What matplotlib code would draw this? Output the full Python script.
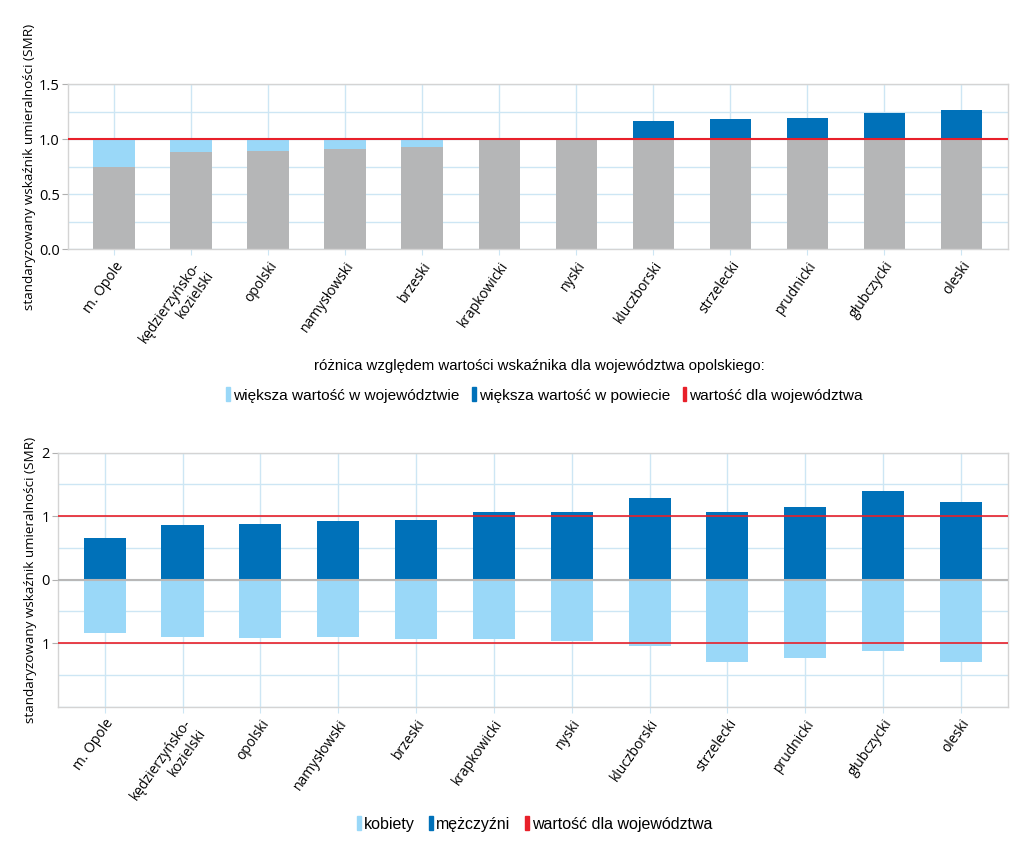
"""Wskaźnik SMR dla powiatów województwa opolskiego — dwa wykresy słupkowe."""
import numpy as np
import matplotlib
matplotlib.use("Agg")
import matplotlib.pyplot as plt  # noqa: E402
from matplotlib.patches import Patch  # noqa: E402

powiaty = ["m. Opole", "kędzierzyńsko-\nkozielski", "opolski", "namysłowski",
           "brzeski", "krapkowicki", "nyski", "kluczborski", "strzelecki",
           "prudnicki", "głubczycki", "oleski"]

# SMR ogółem
smr_ogolem = [0.75, 0.88, 0.89, 0.91, 0.93, 0.99, 0.99, 1.16, 1.18, 1.19, 1.24, 1.26]
# SMR wg płci
smr_mezczyzni = [0.65, 0.86, 0.87, 0.92, 0.94, 1.06, 1.07, 1.28, 1.06, 1.14, 1.39, 1.23]
smr_kobiety = [0.84, 0.91, 0.92, 0.91, 0.93, 0.94, 0.96, 1.05, 1.30, 1.23, 1.12, 1.29]

wojewodztwo = 1.0

SZARY = "#b5b6b7"
JASNY = "#9ad8f8"
CIEMNY = "#0071b9"
CZERWONY = "#e8202a"
SIATKA = "#cde6f4"
RAMKA = "#d4d4d4"
YLABEL = "standaryzowany wskaźnik umieralności (SMR)"
WASKI = ["Liberation Sans", "DejaVu Sans"]

plt.rcParams["font.family"] = ["Open Sans", "DejaVu Sans"]
plt.rcParams["font.size"] = 10

fig = plt.figure(figsize=(10.24, 8.59), dpi=100)
x = np.arange(len(powiaty))
szer = 0.54


def _styl(ax):
    ax.set_xlim(-0.6, 11.6)
    ax.set_xticks(x)
    ax.set_xticklabels(powiaty, rotation=55, ha="right", rotation_mode="anchor",
                       fontsize=10)
    ax.tick_params(axis="x", length=4, color=SIATKA, pad=3)
    ax.tick_params(axis="y", which="major", length=4, color="#b0b0b0", pad=2,
                   labelsize=10.5)
    ax.tick_params(axis="y", which="minor", length=0)
    ax.grid(True, which="both", color=SIATKA, linewidth=1.0)
    ax.set_axisbelow(True)
    for s in ax.spines.values():
        s.set_color(RAMKA)
        s.set_linewidth(1.0)
    ax.set_ylabel(YLABEL, fontsize=9.7)


# --- górny wykres: ogółem ---
ax1 = fig.add_axes([0.0664, 0.7101, 0.9176, 0.1921])
v = np.array(smr_ogolem)
baza = np.minimum(v, wojewodztwo)
ax1.bar(x, baza, width=szer, color=SZARY, zorder=2)
ax1.bar(x, np.maximum(wojewodztwo - v, 0), bottom=v, width=szer, color=JASNY, zorder=2)
ax1.bar(x, np.maximum(v - wojewodztwo, 0), bottom=wojewodztwo, width=szer,
        color=CIEMNY, zorder=2)
ax1.axhline(wojewodztwo, color=CZERWONY, linewidth=1.5, zorder=3)
ax1.set_ylim(0, 1.5)
ax1.set_yticks([0, 0.5, 1.0, 1.5])
ax1.set_yticklabels(["0.0", "0.5", "1.0", "1.5"])
ax1.set_yticks(np.arange(0, 1.51, 0.25), minor=True)
_styl(ax1)
ax1.yaxis.set_label_coords(-0.034, 0.5)

fig.text(0.527, 1 - 366 / 859, "różnica względem wartości wskaźnika dla województwa opolskiego:",
         ha="center", va="center", fontsize=10.85, family=WASKI)
uchwyty1 = [Patch(color=JASNY), Patch(color=CIEMNY), Patch(color=CZERWONY)]
fig.legend(uchwyty1, ["większa wartość w województwie", "większa wartość w powiecie",
                      "wartość dla województwa"],
           loc="center", bbox_to_anchor=(0.532, 1 - 395 / 859), ncol=3, frameon=False,
           handlelength=0.25, handleheight=1.0, handletextpad=0.2, columnspacing=0.8,
           prop={"family": WASKI, "size": 11.1})

# --- dolny wykres: wg płci ---
ax2 = fig.add_axes([0.0566, 0.1773, 0.9274, 0.2957])
ax2.bar(x, smr_mezczyzni, width=szer, color=CIEMNY, zorder=2)
ax2.bar(x, [-k for k in smr_kobiety], width=szer, color=JASNY, zorder=2)
ax2.axhline(0, color="#b8b8b8", linewidth=1.5, zorder=3)
ax2.axhline(wojewodztwo, color=CZERWONY, linewidth=1.2, zorder=3)
ax2.axhline(-wojewodztwo, color=CZERWONY, linewidth=1.2, zorder=3)
ax2.set_ylim(-2, 2)
ax2.set_yticks([-1, 0, 1, 2])
ax2.set_yticklabels(["1", "0", "1", "2"])
ax2.set_yticks(np.arange(-2, 2.01, 0.5), minor=True)
_styl(ax2)
ax2.yaxis.set_label_coords(-0.022, 0.5)

uchwyty2 = [Patch(color=JASNY), Patch(color=CIEMNY), Patch(color=CZERWONY)]
fig.legend(uchwyty2, ["kobiety", "mężczyźni", "wartość dla województwa"],
           loc="center", bbox_to_anchor=(0.522, 1 - 824 / 859), ncol=3, frameon=False,
           handlelength=0.25, handleheight=1.0, handletextpad=0.2, columnspacing=0.9,
           prop={"family": WASKI, "size": 11.5})

fig.savefig("out.png", dpi=100, facecolor="white")
plt.close(fig)
